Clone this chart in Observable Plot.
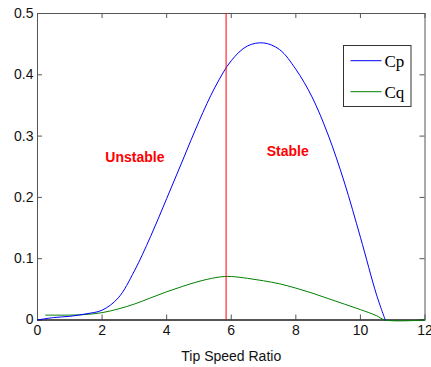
<!DOCTYPE html>
<html>
<head>
<meta charset="utf-8">
<script src="https://cdn.jsdelivr.net/npm/d3@7"></script>
<script src="https://cdn.jsdelivr.net/npm/@observablehq/plot@0.6"></script>
<style>
html, body { margin: 0; padding: 0; background: #fff; }
#wrap { position: relative; width: 431px; height: 367px; }
#legend { position: absolute; left: 343px; top: 45px; }
</style>
</head>
<body>
<div id="wrap"></div>
<script>
// Tip speed ratio vs. power coefficient Cp
const cpX = [0, 0.5, 1.0, 1.5, 2.0, 2.5, 3.0, 3.5, 4.0, 4.5, 5.0, 5.5, 6.0, 6.5, 7.0, 7.5, 8.0, 8.5, 9.0, 9.5, 10.0, 10.5, 10.77];
const cpY = [0, 0.004, 0.006, 0.010, 0.016, 0.036, 0.080, 0.136, 0.198, 0.261, 0.324, 0.380, 0.423, 0.447, 0.452, 0.441, 0.409, 0.364, 0.302, 0.225, 0.135, 0.041, 0];
// Torque coefficient Cq
const cqX = [0.25, 1.0, 1.5, 2.0, 2.5, 3.0, 3.5, 4.0, 4.5, 5.0, 5.5, 5.8, 6.0, 6.5, 7.0, 7.5, 8.0, 8.5, 9.0, 9.5, 10.0, 10.5, 10.77, 12];
const cqY = [0.008, 0.008, 0.009, 0.012, 0.018, 0.026, 0.036, 0.046, 0.055, 0.063, 0.069, 0.071, 0.071, 0.068, 0.064, 0.059, 0.052, 0.044, 0.035, 0.026, 0.017, 0.007, 0, 0];
// Stability boundary
const boundaryX = [5.84];
// Region labels
const regionLabels = ["Unstable", "Stable"];
const regionX = [2.1, 7.1];
const regionY = [0.265, 0.275];
// Axes
const xTicks = [0, 2, 4, 6, 8, 10, 12];
const yTicks = [0, 0.1, 0.2, 0.3, 0.4, 0.5];
const yTickLabels = ["0", "0.1", "0.2", "0.3", "0.4", "0.5"];
const xLabel = "Tip Speed Ratio";
const seriesNames = ["Cp", "Cq"];
const seriesColors = ["#0000ff", "#008000"];

const cp = cpX.map((x, i) => ({x, y: cpY[i]}));
const cq = cqX.map((x, i) => ({x, y: cqY[i]}));
const regions = regionLabels.map((t, i) => ({t, x: regionX[i], y: regionY[i]}));

const axisColor = "#555";
const tk = 5;

const chart = Plot.plot({
  width: 431,
  height: 367,
  marginLeft: 37,
  marginRight: 6.5,
  marginTop: 13,
  marginBottom: 47.5,
  style: { fontFamily: "'Liberation Sans', Arial, sans-serif", fontSize: "14px", background: "#fff", color: "#000" },
  x: { domain: [0, 12] },
  y: { domain: [0, 0.5] },
  marks: [
    Plot.frame({ stroke: axisColor }),
    Plot.axisX(xTicks, { tickSize: 0, tickPadding: 5.5, fontSize: 14, label: null, fill: "#111" }),
    Plot.axisY(yTicks, { tickSize: 0, tickPadding: 4, fontSize: 14, label: null, fill: "#111",
      tickFormat: (d) => yTickLabels[yTicks.indexOf(d)] }),
    Plot.ruleX(xTicks, { x: (d) => d, y1: 0, y2: 0, insetBottom: tk, stroke: axisColor }),
    Plot.ruleX(xTicks, { x: (d) => d, y1: 0.5, y2: 0.5, insetBottom: -tk, stroke: axisColor }),
    Plot.ruleY(yTicks, { y: (d) => d, x1: 0, x2: 0, insetRight: -tk, stroke: axisColor }),
    Plot.ruleY(yTicks, { y: (d) => d, x1: 12, x2: 12, insetRight: tk, stroke: axisColor }),
    Plot.ruleY([0], { stroke: "#000" }),
    Plot.line(cq, { x: "x", y: "y", stroke: seriesColors[1], strokeWidth: 1, curve: "catmull-rom" }),
    Plot.line(cp, { x: "x", y: "y", stroke: seriesColors[0], strokeWidth: 1, curve: "catmull-rom" }),
    Plot.ruleX(boundaryX, { x: (d) => d, y1: 0, y2: 0.5, stroke: "#ff0000", strokeWidth: 1 }),
    Plot.text(regions, { x: "x", y: "y", text: "t", fill: "#ff0000", fontWeight: "bold", fontSize: 14,
      textAnchor: "start", lineAnchor: "middle" }),
    Plot.text([xLabel], { frameAnchor: "bottom", dy: 31.5, lineAnchor: "top", fontSize: 14, fill: "#111" })
  ]
});

const wrap = document.getElementById("wrap");
wrap.appendChild(chart);

// Legend box (MATLAB style, inside the axes)
const lw = 68.5, lh = 62;
const leg = d3.create("svg").attr("id", "legend").attr("width", lw + 1).attr("height", lh + 1);
leg.append("rect").attr("x", 0.5).attr("y", 0.5).attr("width", lw - 1).attr("height", lh - 1)
  .attr("fill", "#fff").attr("stroke", "#333");
seriesNames.forEach((name, i) => {
  const cy = 15.7 + i * 31;
  leg.append("line").attr("x1", 7.5).attr("x2", 38.5).attr("y1", cy).attr("y2", cy)
    .attr("stroke", seriesColors[i]).attr("stroke-width", 1);
  leg.append("text").attr("x", 41.5).attr("y", cy + 6)
    .attr("font-family", "'Liberation Serif', 'Times New Roman', serif").attr("font-size", 17)
    .attr("fill", "#000").text(name);
});
wrap.appendChild(leg.node());
</script>
</body>
</html>
